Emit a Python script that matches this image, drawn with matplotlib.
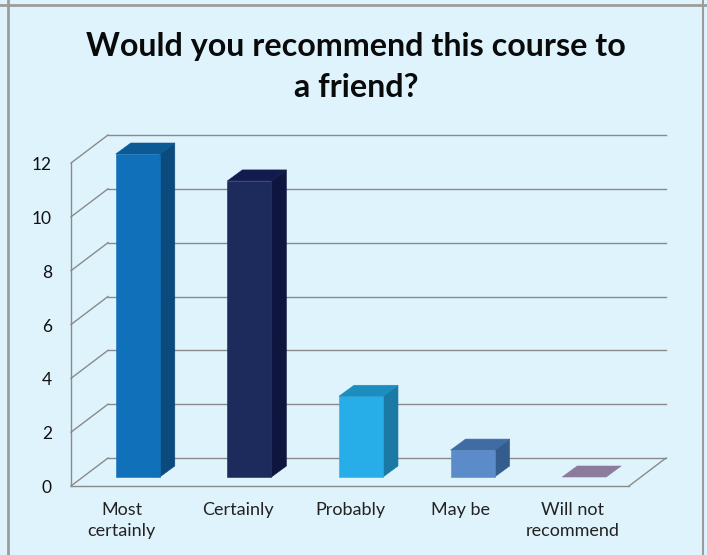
import matplotlib
matplotlib.use("Agg")
import matplotlib.pyplot as plt
from matplotlib.patches import Polygon
from matplotlib.transforms import Affine2D, IdentityTransform

plt.rcParams["font.family"] = ["Lato", "DejaVu Sans"]

categories = ["Most\ncertainly", "Certainly", "Probably", "May be", "Will not\nrecommend"]
values = [12, 11, 3, 1, 0]
y_ticks = [0, 2, 4, 6, 8, 10, 12]
title_lines = ["Would you recommend this course to", "a friend?"]

front_colors = ["#1170BA", "#1D2A5C", "#27ADE8", "#5B8BC9", "#8A7C9A"]
side_colors = ["#0B4A7C", "#0E1640", "#1A7AA5", "#345C8C", "#6A5E78"]
top_colors = ["#0B5A96", "#111B4E", "#1C8DBF", "#3F6DA3", "#8A7C9A"]
label_nudge = [-5, 0, 0, -1, -1]

BG = "#DFF3FD"
GRID = "#8A8A8A"
W, H = 707, 555

fig = plt.figure(figsize=(W / 100, H / 100), dpi=100, facecolor=BG)

# front plane of the fake 3d box, in pixels
left, right, top, bottom = 71, 629, 163, 486
ax = fig.add_axes([left / W, 1 - bottom / H, (right - left) / W, (bottom - top) / H])
ax.set_xlim(-0.5, 4.5)
ax.set_ylim(0, 12)
ax.axis("off")
PX = IdentityTransform()


def shifted(dx, dy):
    # data coords pushed back by some pixels (y up)
    return ax.transData + Affine2D().translate(dx, dy)


# back wall and side wall
back_dx, back_dy = 37, 28
back = shifted(back_dx, back_dy)
for t in y_ticks:
    ax.plot([-0.5, 4.5], [t, t], color=GRID, lw=1.0, transform=back, clip_on=False, zorder=1)
    p0 = ax.transData.transform((-0.5, t))
    fig.add_artist(plt.Line2D([p0[0], p0[0] + back_dx], [p0[1], p0[1] + back_dy],
                              color=GRID, lw=1.0, transform=PX, zorder=1))

# floor and left edge
ax.plot([-0.5, 4.5], [0, 0], color=GRID, lw=1.0, clip_on=False, zorder=2)
ax.plot([-0.5, -0.5], [0, 12], color=GRID, lw=1.0, clip_on=False, zorder=2)
p1 = ax.transData.transform((4.5, 0))
fig.add_artist(plt.Line2D([p1[0], p1[0] + back_dx], [p1[1], p1[1] + back_dy],
                          color=GRID, lw=1.0, transform=PX, zorder=1))

# bars
bar_dx, bar_dy = 11, 9
depth_dx, depth_dy = 15, 11
half = 22 / ((right - left) / 5)
front = shifted(bar_dx, bar_dy)
rear = shifted(bar_dx + depth_dx, bar_dy + depth_dy)
for i, v in enumerate(values):
    xl, xr = i - half, i + half
    a = front.transform([(xl, 0), (xr, 0), (xr, v), (xl, v)])
    b = rear.transform([(xl, 0), (xr, 0), (xr, v), (xl, v)])
    if v > 0:
        ax.add_patch(Polygon([a[1], b[1], b[2], a[2]], facecolor=side_colors[i], edgecolor=side_colors[i],
                             lw=0.4, transform=PX, zorder=5, clip_on=False))
        ax.add_patch(Polygon(a, facecolor=front_colors[i], edgecolor=front_colors[i],
                             lw=0.4, transform=PX, zorder=6, clip_on=False))
    ax.add_patch(Polygon([a[3], a[2], b[2], b[3]], facecolor=top_colors[i], edgecolor=top_colors[i],
                         lw=0.4, transform=PX, zorder=6, clip_on=False))

# labels
for t in y_ticks:
    ax.annotate(str(t), (-0.5, t), xytext=(-19, -2), textcoords="offset pixels",
                ha="right", va="center", fontsize=12.5, color="#111111", annotation_clip=False)
for i, c in enumerate(categories):
    ax.annotate(c, (i, 0), xytext=(label_nudge[i], -16), textcoords="offset pixels", ha="center", va="top",
                fontsize=13, color="#222222", linespacing=1.38, annotation_clip=False)

fig.text(356 / W, 1 - 46.5 / H, title_lines[0], ha="center", va="center", fontsize=23.2, fontweight="bold", color="#0A0A0A")
fig.text(356 / W, 1 - 88 / H, title_lines[1], ha="center", va="center", fontsize=23.2, fontweight="bold", color="#0A0A0A")

# outer frame lines
frame = "#9C9C9C"
fig.add_artist(plt.Line2D([0, 1], [1 - 4.5 / H] * 2, color=frame, lw=2))
fig.add_artist(plt.Line2D([7.5 / W] * 2, [0, 1], color=frame, lw=2))
fig.add_artist(plt.Line2D([702.5 / W] * 2, [0, 1], color=frame, lw=1.5))

fig.savefig("out.png", dpi=100, facecolor=BG)
